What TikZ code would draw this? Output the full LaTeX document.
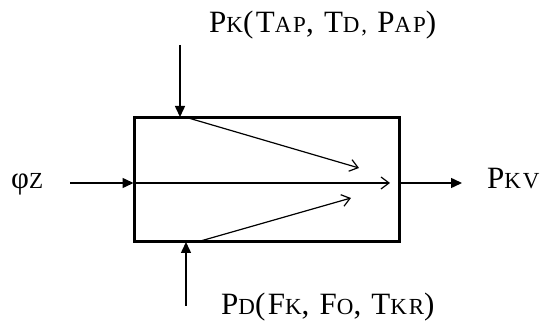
\documentclass[tikz,border=0pt]{standalone}
\usepackage{fontspec}
\setmainfont[LetterSpace=8]{Liberation Serif}
\usetikzlibrary{arrows.meta}
\newcommand{\sm}[1]{{\fontsize{23}{23}\selectfont #1}}
\tikzset{
  lbl/.style={inner sep=0pt, anchor=base west, font=\fontsize{31}{31}\selectfont},
  inarrow/.style={line width=1.5pt, -{Triangle[length=11pt,width=10pt]}},
  inner/.style={line width=1.2pt, -{Straight Barb[length=8pt,width=12pt,line width=1.2pt]}},
  blk/.style={draw, line width=3.2pt, minimum width=265pt, minimum height=124pt, inner sep=0pt}
}
\begin{document}
\begin{tikzpicture}[x=1pt,y=-1pt]
\useasboundingbox (0,0) rectangle (542,328);
\node[blk] (box) at (267,179.5) {};
\coordinate (inl) at (133.5,183);
\coordinate (inr) at (400.5,183);
\coordinate (inend) at (390,183);
\coordinate (tl) at (185,117);
\coordinate (tend) at (359,168);
\coordinate (bl) at (197,242);
\coordinate (bend) at (351,198);
\coordinate (topin) at (180,117);
\coordinate (topst) at (180,45);
\coordinate (botin) at (186,242);
\coordinate (botst) at (186,306);
\coordinate (lst) at (70,183);
\coordinate (rend) at (462,183);
\node[lbl] (phi) at (11,189) {φ\sm{Z}};
\node[lbl] (pkv) at (487,189) {P\sm{KV}};
\node[lbl] (pk) at (209,33) {P\sm{K}(T\sm{AP}, T\sm{D,} P\sm{AP})};
\node[lbl] (pd) at (221,315) {P\sm{D}(F\sm{K}, F\sm{O}, T\sm{KR})};
\draw[inarrow] (lst) -- (inl);
\draw[inarrow] (inr) -- (rend);
\draw[inarrow] (topst) -- (topin);
\draw[inarrow] (botst) -- (botin);
\draw[inner] (inl) -- (inend);
\draw[inner] (tl) -- (tend);
\draw[inner] (bl) -- (bend);
\end{tikzpicture}
\end{document}
